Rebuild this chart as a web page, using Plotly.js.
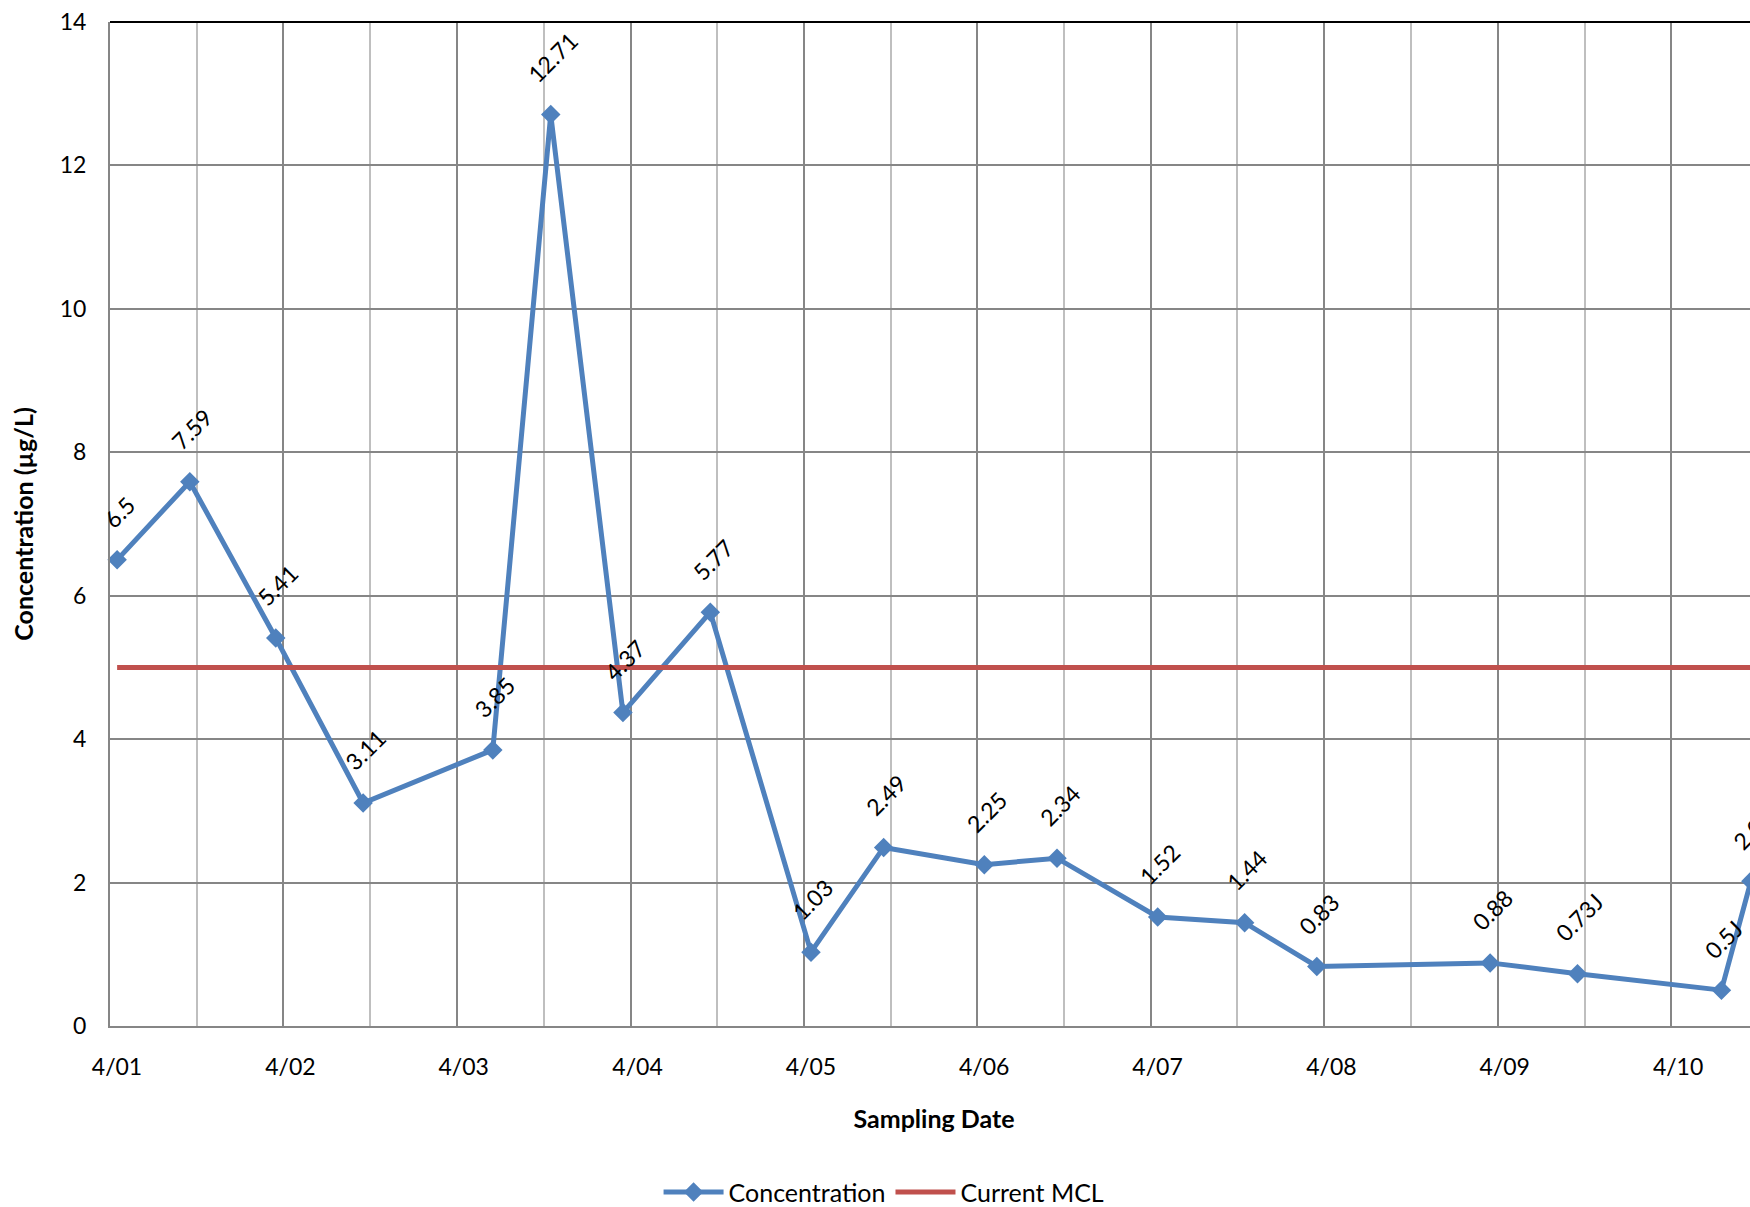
<!DOCTYPE html>
<html>
<head>
<meta charset="utf-8">
<script src="https://cdn.plot.ly/plotly-3.0.1.min.js"></script>
<style>
html, body { margin:0; padding:0; overflow:hidden; background:#fff; }
#chart { width:1768px; height:1207px; }
</style>
</head>
<body>
<div id="chart"></div>
<script>
// Sampling dates (points sit mid-month, as in the original date axis)
const sampleDates = ["2001-04-16","2001-09-16","2002-03-16","2002-09-16","2003-06-16","2003-10-16",
  "2004-03-16","2004-09-16","2005-04-16","2005-09-16","2006-04-16","2006-09-16",
  "2007-04-16","2007-10-16","2008-03-16","2009-03-16","2009-09-16","2010-07-16","2010-09-16"];
const concentration = [6.5, 7.59, 5.41, 3.11, 3.85, 12.71, 4.37, 5.77, 1.03, 2.49, 2.25, 2.34,
  1.52, 1.44, 0.83, 0.88, 0.73, 0.5, 2.02];
const pointLabels = ["6.5","7.59","5.41","3.11","3.85","12.71","4.37","5.77","1.03","2.49","2.25","2.34",
  "1.52","1.44","0.83","0.88","0.73J","0.5J","2.02"];
const mclValues = [5,5,5,5,5,5,5,5,5,5,5,5,5,5,5,5,5,5,5];

const FONT = "Lato, 'Open Sans', sans-serif";
const BLUE = "#4F81BD", RED = "#C0504D";

const traces = [
  {
    x: sampleDates, y: concentration, name: "Concentration",
    type: "scatter", mode: "lines+markers",
    line: {color: BLUE, width: 5},
    marker: {symbol: "diamond", size: 15, color: BLUE},
    cliponaxis: false
  },
  {
    x: sampleDates, y: mclValues, name: "Current MCL",
    type: "scatter", mode: "lines",
    line: {color: RED, width: 5}
  }
];

const annotations = sampleDates.map((d, i) => ({
  x: d, y: concentration[i], xref: "x", yref: "y",
  text: pointLabels[i], showarrow: false, textangle: -45,
  xanchor: "center", yanchor: "bottom", yshift: 24, xshift: 2,
  font: {family: FONT, size: 23, color: "#000"}
}));

const layout = {
  width: 1768, height: 1207,
  margin: {l: 110, r: 10, t: 22, b: 181, pad: 0, autoexpand: false},
  paper_bgcolor: "#fff", plot_bgcolor: "#fff",
  font: {family: FONT, size: 23, color: "#000"},
  showlegend: true,
  legend: {
    orientation: "h", x: 0.4697, xanchor: "center", y: -0.1657, yanchor: "middle",
    font: {family: FONT, size: 25, color: "#000"}, itemwidth: 60, tracegroupgap: 0
  },
  xaxis: {
    type: "date",
    range: ["2001-04-01", "2010-10-01"],
    tick0: "2001-04-01", dtick: "M12", tickformat: "%-m/%y",
    ticklabelshift: 7, ticklabelstandoff: 19,
    ticks: "", showline: true, linecolor: "#868686", linewidth: 2,
    showgrid: true, gridcolor: "#868686", gridwidth: 2,
    minor: {dtick: "M6", tick0: "2001-04-01", showgrid: true, gridcolor: "#BFBFBF", gridwidth: 2, ticks: ""},
    zeroline: false,
    tickfont: {family: FONT, size: 23, color: "#000"},
    title: {text: "<b>Sampling Date</b>", standoff: 32, font: {family: FONT, size: 25, color: "#000"}},
    automargin: false
  },
  yaxis: {
    range: [0, 14], dtick: 2, tick0: 0,
    ticks: "", ticklabelstandoff: 17,
    showline: true, linecolor: "#868686", linewidth: 2,
    showgrid: true, gridcolor: "#868686", gridwidth: 2,
    zeroline: false,
    tickfont: {family: FONT, size: 23, color: "#000"},
    title: {text: "<b>Concentration (µg/L)</b>", standoff: 19, font: {family: FONT, size: 25, color: "#000"}},
    automargin: false
  },
  shapes: [
    {type: "line", xref: "paper", yref: "paper", x0: 0, x1: 1, y0: 1, y1: 1,
     line: {color: "#000", width: 2}}
  ],
  annotations: annotations
};

Plotly.newPlot("chart", traces, layout, {displayModeBar: false, staticPlot: true});
</script>
</body>
</html>
